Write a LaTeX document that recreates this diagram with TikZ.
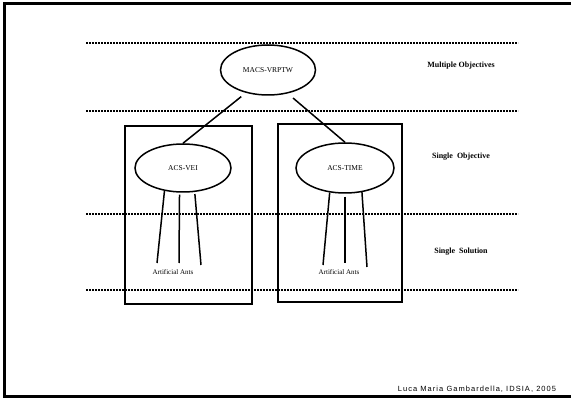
\documentclass[tikz,border=0pt]{standalone}
\usepackage{fontspec}
\setmainfont{Liberation Serif}
\newfontfamily\footfont[LetterSpace=14]{Liberation Sans}
\usetikzlibrary{fit,positioning}
\usetikzlibrary{shapes,arrows}

\begin{document}
\begin{tikzpicture}[x=1pt,y=-1pt]
\tikzstyle{algo}=[ellipse, inner sep=0pt, line width=1.5pt, draw=black, font=\fontsize{7.5}{8}\selectfont]
\tikzstyle{colony}=[rectangle, inner sep=0pt, line width=1.5pt, draw=black]
\tikzstyle{level}=[font=\fontsize{8}{9}\selectfont\bfseries]
\tikzstyle{antlabel}=[font=\fontsize{7}{8}\selectfont]
\tikzstyle{sep}=[line width=2pt, dash pattern=on 2pt off 1pt]
\tikzstyle{connect}=[line width=1.5pt]
\useasboundingbox (0,0) rectangle (571,398);
% frame
\draw[line width=3pt] (571,3.5) -- (4.2,3.5) -- (4.2,396.5) -- (571,396.5);
% level separators
\foreach \y in {43,111,214.5,290.5}
	\draw[sep] (86,\y) -- (518,\y);
	\node[colony, minimum width=127pt, minimum height=178pt] (vei_box) at (188.5,215) {};
	\node[colony, minimum width=124pt, minimum height=178pt] (time_box) at (340,213) {};
	\node[algo, minimum width=95pt, minimum height=50pt] (macs) at (268,70) {MACS-VRPTW};
	\node[algo, minimum width=96pt, minimum height=48pt] (acs_vei) at (183,168) {ACS-VEI};
	\node[algo, minimum width=98pt, minimum height=50pt] (acs_time) at (345,168) {ACS-TIME};
	\node[level] (multi) at (461,66) {Multiple Objectives};
	\node[level] (single_obj) at (461,157) {Single~ Objective};
	\node[level] (single_sol) at (461,252) {Single~ Solution};
	\node[antlabel] (vei_ants) at (173,272) {Artificial Ants};
	\node[antlabel] (time_ants) at (339,272) {Artificial Ants};
	\node[font=\footfont\fontsize{7.5}{9}\selectfont] (credit) at (477,389) {Luca Maria Gambardella, IDSIA, 2005};
	\coordinate (vei_a1) at (157,263);
	\coordinate (vei_a2) at (179,263);
	\coordinate (vei_a3) at (201,265);
	\coordinate (time_a1) at (323,265);
	\coordinate (time_a2) at (345,263);
	\coordinate (time_a3) at (367,267);
	
	\path[connect]
		(macs.226) edge [shorten <=6pt] (acs_vei.north)
		(macs.310) edge [shorten <=7pt] (acs_time.north)
		(acs_vei.231) edge [] (vei_a1)
		(acs_vei.262) edge [shorten <=2pt] (vei_a2)
		(acs_vei.296) edge [shorten <=2pt] (vei_a3)
		(acs_time.238) edge [] (time_a1)
		(acs_time.270) edge [shorten <=3pt] (time_a2)
		(acs_time.305) edge [] (time_a3);
		
\end{tikzpicture}
\end{document}
